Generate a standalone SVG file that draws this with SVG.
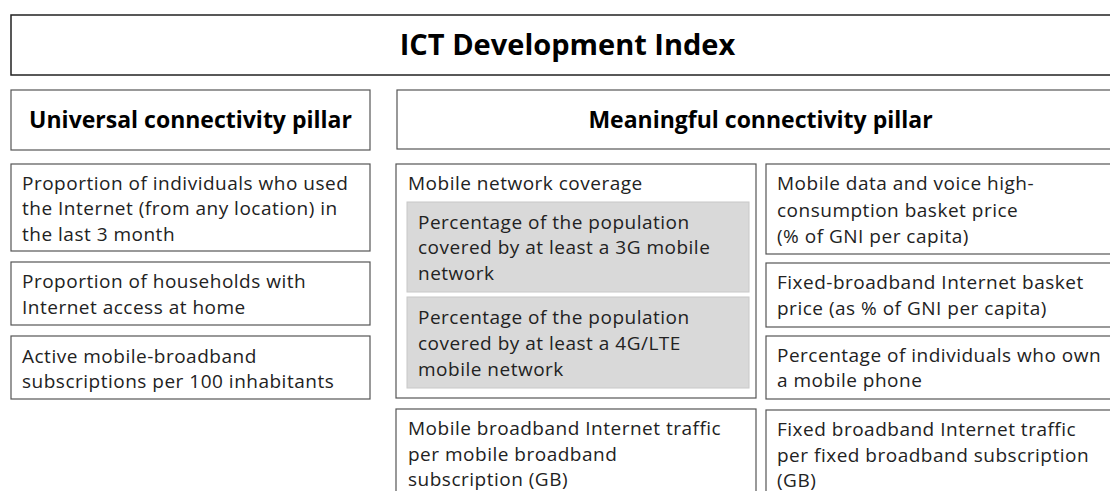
<svg xmlns="http://www.w3.org/2000/svg" width="1110" height="491" viewBox="0 0 1110 491">
<style>
.bx{fill:#fff;stroke:#555;stroke-width:1.2}
.ttl{fill:#fff;stroke:#222;stroke-width:1.5}
.gr{fill:#d9d9d9;stroke:#c8c8c8;stroke-width:1}
.h{font-family:"Open Sans","Noto Sans",sans-serif;font-weight:700;fill:#000;text-anchor:middle}
.t{font-family:"Open Sans","Noto Sans",sans-serif;font-size:19px;letter-spacing:0.5px;fill:#222}
</style>
<rect width="1110" height="491" fill="#fff"/>
<g id="title"><rect class="ttl" x="11" y="15" width="1113" height="60"/><text class="h" x="567.5" y="55" font-size="29">ICT Development Index</text></g>
<g id="universal"><rect class="bx" x="11" y="90" width="359" height="60"/><text class="h" x="190.5" y="128" font-size="23">Universal connectivity pillar</text></g>
<g id="meaningful"><rect class="bx" x="397" y="90" width="727" height="59"/><text class="h" x="760.5" y="128" font-size="23">Meaningful connectivity pillar</text></g>
<g id="u1"><rect class="bx" x="11" y="164" width="359" height="87"/><text class="t" x="22"><tspan x="22" y="189.5">Proportion of individuals who used</tspan><tspan x="22" y="215">the Internet (from any location) in</tspan><tspan x="22" y="240.5">the last 3 month</tspan></text></g>
<g id="u2"><rect class="bx" x="11" y="262" width="359" height="63"/><text class="t"><tspan x="22" y="288">Proportion of households with</tspan><tspan x="22" y="313.5">Internet access at home</tspan></text></g>
<g id="u3"><rect class="bx" x="11" y="336" width="359" height="63"/><text class="t"><tspan x="22" y="362.5">Active mobile-broadband</tspan><tspan x="22" y="388">subscriptions per 100 inhabitants</tspan></text></g>
<g id="coverage"><rect class="bx" x="396" y="164" width="360" height="234"/><text class="t" x="408" y="190">Mobile network coverage</text>
<rect class="gr" x="407" y="202" width="342" height="90"/><text class="t"><tspan x="418" y="228.5">Percentage of the population</tspan><tspan x="418" y="254">covered by at least a 3G mobile</tspan><tspan x="418" y="280">network</tspan></text>
<rect class="gr" x="407" y="297" width="342" height="91"/><text class="t"><tspan x="418" y="324">Percentage of the population</tspan><tspan x="418" y="350">covered by at least a 4G/LTE</tspan><tspan x="418" y="375.5">mobile network</tspan></text></g>
<g id="mtraffic"><rect class="bx" x="396" y="409" width="360" height="100"/><text class="t"><tspan x="408" y="435">Mobile broadband Internet traffic</tspan><tspan x="408" y="460.5">per mobile broadband</tspan><tspan x="408" y="486">subscription (GB)</tspan></text></g>
<g id="r1"><rect class="bx" x="766" y="164" width="360" height="90"/><text class="t"><tspan x="777" y="190">Mobile data and voice high-</tspan><tspan x="777" y="216.5">consumption basket price</tspan><tspan x="777" y="242.5">(% of GNI per capita)</tspan></text></g>
<g id="r2"><rect class="bx" x="766" y="263" width="360" height="64"/><text class="t"><tspan x="777" y="288.5">Fixed-broadband Internet basket</tspan><tspan x="777" y="314.5">price (as % of GNI per capita)</tspan></text></g>
<g id="r3"><rect class="bx" x="766" y="336" width="360" height="63"/><text class="t"><tspan x="777" y="361.5">Percentage of individuals who own</tspan><tspan x="777" y="387">a mobile phone</tspan></text></g>
<g id="ftraffic"><rect class="bx" x="766" y="410" width="360" height="100"/><text class="t"><tspan x="777" y="436">Fixed broadband Internet traffic</tspan><tspan x="777" y="461.5">per fixed broadband subscription</tspan><tspan x="777" y="487">(GB)</tspan></text></g>
<g id="connectors"/>
</svg>
